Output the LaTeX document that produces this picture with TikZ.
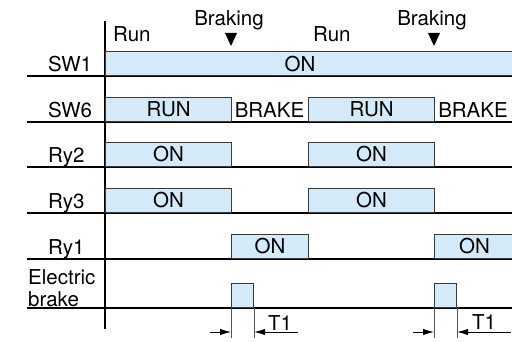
\documentclass[tikz,border=0pt]{standalone}
\usepackage{fontspec}
\setmainfont{TeX Gyre Heros}
\usepackage{xcolor}
\definecolor{pulsefill}{HTML}{D4EAF8}
\definecolor{pulsedraw}{HTML}{3A3A3A}
\definecolor{tickcolor}{HTML}{555555}
\usetikzlibrary{positioning, calc, arrows.meta}

\newcommand{\sigfont}{\fontsize{20.5}{22}\selectfont}

\begin{document}
\begin{tikzpicture}[x=1pt, y=-1pt,
  pulse/.style={draw=pulsedraw, line width=1.1pt, fill=pulsefill, minimum width=#1,
    minimum height=24pt, anchor=south west, inner sep=0pt, font=\sigfont},
  sig/.style={font=\sigfont, anchor=base west, inner sep=0pt},
  rowline/.style={line width=1.3pt, black},
  tick/.style={line width=0.8pt, tickcolor},
  dimarrow/.style={line width=0.9pt, -{Latex[length=11pt, width=6.5pt]}},
]
\useasboundingbox (0,0) rectangle (512,342);

% Signalzeilen
\foreach \y/\name/\txt in {76/sw1/SW1, 122/sw6/SW6, 167/ry2/Ry2, 213/ry3/Ry3, 259/ry1/Ry1}{
  \draw[rowline] (27,\y) -- (514,\y);
  \node[sig] (lbl-\name) at (48,\y-4.5) {\txt};
}
\draw[rowline] (27,308) -- (514,308);
\node[font=\sigfont, inner sep=0pt, anchor=north west, align=left] (lbl-brake) at (28,269)
  {Electric\\brake};

% Zeitachse
\draw[rowline] (105,21) -- (105,329);

% Phasen oben
\node[sig] (run1) at (113,42) {Run};
\node[sig] (run2) at (313,42) {Run};
\node[sig, anchor=base] (brk-a) at (229,26) {Braking};
\node[sig, anchor=base] (brk-b) at (432,26) {Braking};
\foreach \x in {231,434}
  \fill (\x-6,33) -- (\x+6,33) -- (\x,46) -- cycle;

% SW1
\node[pulse=410pt] (sw1on) at (105,76) {};
\node[font=\sigfont, inner sep=0pt] (sw1txt) at (300,64) {ON};

% SW6
\node[pulse=126pt] (sw6a) at (105,122) {RUN};
\node[font=\sigfont, inner sep=0pt] (sw6b) at (269.5,110) {BRAKE};
\node[pulse=126pt] (sw6c) at (308,122) {RUN};
\node[font=\sigfont, inner sep=0pt] (sw6d) at (473,110) {BRAKE};

% Ry2, Ry3
\node[pulse=126pt] (ry2a) at (105,167) {ON};
\node[pulse=126pt] (ry2b) at (308,167) {ON};
\node[pulse=126pt] (ry3a) at (105,213) {ON};
\node[pulse=126pt] (ry3b) at (308,213) {ON};

% Ry1
\node[pulse=77pt] (ry1a) at (231,259) {ON};
\node[pulse=80pt] (ry1b) at (434,259) {ON};

% Bremse
\node[pulse=22pt] (brake1) at (231,308) {};
\node[pulse=22pt] (brake2) at (434,308) {};

% T1
\foreach \b in {brake1,brake2}{
  \draw[tick] (\b.south west) -- ++(0,30);
  \draw[tick] (\b.south east) -- ++(0,30);
  \coordinate (\b-l) at ($(\b.south west)+(0,24)$);
  \coordinate (\b-r) at ($(\b.south east)+(0,24)$);
  \draw[dimarrow] ($(\b-l)+(-21,0)$) -- (\b-l);
}
\draw[dimarrow] ($(brake1-r)+(44,0)$) -- (brake1-r);
\draw[dimarrow] ($(brake2-r)+(54,0)$) -- (brake2-r);
\node[sig] (t1a) at (268,330) {T1};
\node[sig] (t1b) at (472,329) {T1};

\end{tikzpicture}
\end{document}
